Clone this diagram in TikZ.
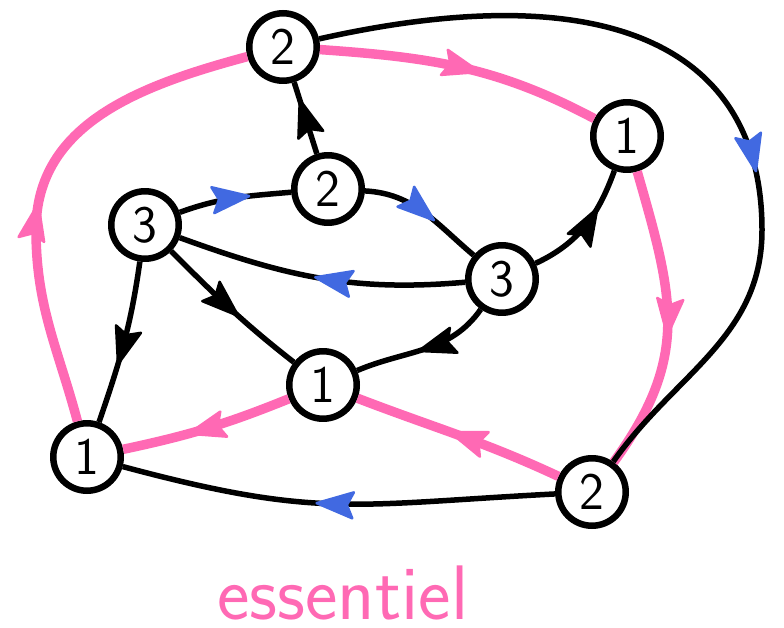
\documentclass[tikz,border=0pt]{standalone}
\usepackage{fontspec}
\usetikzlibrary{arrows.meta,decorations.markings}
\definecolor{hpink}{HTML}{FF69B4}
\definecolor{rblue}{HTML}{4169E1}
\begin{document}
\begin{tikzpicture}[x=0.02cm,y=0.02cm,
  vtx/.style={circle,draw=black,line width=0.13cm,fill=white,minimum size=1.35cm,inner sep=0pt,
    font=\sffamily\fontsize{30}{36}\selectfont},
  edg/.style={line width=0.11cm,draw=black},
  ess/.style={line width=0.19cm,draw=hpink},
  tipat/.style args={#1 in #2}{postaction={decorate},
    decoration={markings,mark=at position #1 with
      {\arrow{Stealth[round,length=0.85cm,width=0.6cm,inset=0.14cm,line width=0.05cm,color=#2]}}}},
]
\useasboundingbox (0,0) rectangle (784,-628);

\node[vtx] (A) at (283,-47) {2};
\node[vtx] (B) at (627,-136) {1};
\node[vtx] (C) at (145,-225) {3};
\node[vtx] (D) at (328,-189) {2};
\node[vtx] (E) at (502,-279) {3};
\node[vtx] (F) at (323,-385) {1};
\node[vtx] (G) at (87,-457) {1};
\node[vtx] (H) at (592,-492) {2};

\node[font=\sffamily\fontsize{44}{52}\selectfont, text=hpink, anchor=base, inner sep=0pt] (lbl) at (343,-619) {essentiel};

% essential (pink) cycle
\draw[ess, tipat={0.57 in hpink}] (A) to[out=-4,in=152] (B);
\draw[ess, tipat={0.55 in hpink}] (B) to[out=-74,in=54,looseness=1.15] (H);
\draw[ess, tipat={0.55 in hpink}] (H) to[out=155,in=-21] (F);
\draw[ess, tipat={0.62 in hpink}] (F) to[out=202,in=12] (G);
\coordinate (gm) at (36,-230);
\draw[ess, tipat={0.455 in hpink}] (G) to[out=105,in=-90] (gm) .. controls (36,-123) and (142,-85) .. (A);

% other edges
\coordinate (am) at (762,-230);
\draw[edg, tipat={0.6 in rblue}] (A) .. controls (613,27) and (762,-50) .. (am) to[out=-90,in=55] (H);
\draw[edg, tipat={0.77 in black}] (D) -- (A);
\draw[edg, tipat={0.64 in rblue}] (C) to[out=20,in=185] (D);
\draw[edg, tipat={0.6 in rblue}] (D) to[out=-3,in=140] (E);
\draw[edg, tipat={0.52 in rblue}] (E) to[out=185,in=-20] (C);
\draw[edg, tipat={0.68 in black}] (E) to[out=25,in=250] (B);
\draw[edg, tipat={0.55 in black}] (E) to[out=235,in=23] (F);
\draw[edg, tipat={0.57 in black}] (C) to[out=-45,in=142] (F);
\draw[edg, tipat={0.64 in black}] (C) to[out=-98,in=71] (G);
\draw[edg, tipat={0.55 in rblue}] (H) to[out=183,in=-15,looseness=1.2] (G);
\end{tikzpicture}
\end{document}
